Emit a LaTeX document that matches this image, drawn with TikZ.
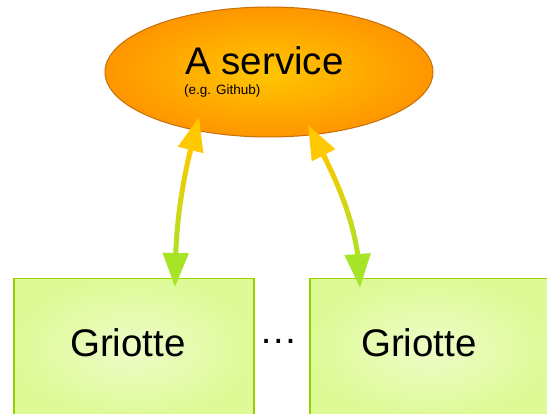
\documentclass[tikz,border=0pt]{standalone}
\usepackage{fontspec}
\setmainfont{Liberation Sans}
\usetikzlibrary{arrows.meta,shapes.geometric}
\definecolor{svcin}{RGB}{255,198,0}
\definecolor{svcout}{RGB}{255,150,0}
\definecolor{svcline}{RGB}{200,110,10}
\definecolor{boxin}{RGB}{238,252,200}
\definecolor{boxout}{RGB}{222,250,150}
\definecolor{boxline}{RGB}{150,210,0}
\definecolor{arrtop}{RGB}{255,200,0}
\definecolor{arrbot}{RGB}{166,228,40}
\tikzset{
  svcshape/.style={ellipse, draw=svcline, line width=1pt, shading=radial, inner color=svcin, outer color=svcout, minimum width=328pt, minimum height=130pt, inner sep=0pt},
  boxshape/.style={rectangle, draw=boxline, line width=1.5pt, shading=radial, inner color=boxin, outer color=boxout, minimum width=240pt, minimum height=140pt, inner sep=0pt, anchor=north west},
  bigtext/.style={font=\fontsize{38.5}{40}\selectfont, inner sep=0pt},
  smalltext/.style={font=\fontsize{13.5}{15}\selectfont, inner sep=0pt},
  tiptop/.style={line width=5pt, color=arrtop, -{Triangle[length=34pt,width=25pt]}},
  tipbot/.style={line width=5pt, color=arrbot, -{Triangle[length=34pt,width=25pt]}},
}
\begin{document}
\begin{tikzpicture}[x=1pt,y=-1pt]
\useasboundingbox (0,0) rectangle (547,414);
\clip (0,0) rectangle (547,414);
% service
\node[svcshape] (svc) at (269,72) {};
\node[bigtext, anchor=base west] (svct) at (185,75) {A service};
\node[smalltext, anchor=base west] (svcs) at (184,95) {(e.g. Github)};
% boxes
\node[boxshape] (g1) at (13,278) {};
\node[boxshape] (g2) at (309,278) {};
\node[bigtext, anchor=base west] (g1t) at (70,357) {Griotte};
\node[bigtext, anchor=base west] (g2t) at (361,357) {Griotte};
\node[bigtext, anchor=base] (dots) at (279,344) {\char"2026};
% arrow end points
\coordinate (a1) at (199,117);
\coordinate (b1) at (175,287);
\coordinate (a2) at (308,125);
\coordinate (b2) at (360,288);
% arrow shafts with gradient
\foreach \i in {0,...,19}{
  \pgfmathsetmacro{\ta}{0.12+\i*0.038}
  \pgfmathsetmacro{\tb}{\ta+0.042}
  \pgfmathtruncatemacro{\pc}{100-\i*5.2}
  \path (a1) .. controls (180,185) and (175,230) .. (b1)
     coordinate[pos=\ta] (sa) coordinate[pos=\tb] (sb);
  \draw[line width=5pt, color=arrtop!\pc!arrbot] (sa) -- (sb);
  \path (a2) .. controls (340,185) and (360,230) .. (b2)
     coordinate[pos=\ta] (ra) coordinate[pos=\tb] (rb);
  \draw[line width=5pt, color=arrtop!\pc!arrbot] (ra) -- (rb);
}
% arrow heads
\path (a1) .. controls (180,185) and (175,230) .. (b1)
   coordinate[pos=0.2] (l1) coordinate[pos=0.8] (l2);
\path (a2) .. controls (340,185) and (360,230) .. (b2)
   coordinate[pos=0.2] (r1) coordinate[pos=0.8] (r2);
\draw[tiptop] (l1) -- (a1);
\draw[tipbot] (l2) -- (b1);
\draw[tiptop] (r1) -- (a2);
\draw[tipbot] (r2) -- (b2);
\end{tikzpicture}
\end{document}
